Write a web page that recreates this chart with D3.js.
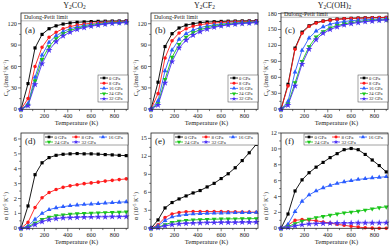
<!DOCTYPE html>
<html>
<head>
<meta charset="utf-8">
<script src="https://cdn.jsdelivr.net/npm/d3@7"></script>
<style>
body { margin: 0; background: #fff; }
svg text { font-family: "Liberation Serif", "DejaVu Serif", serif; }
</style>
</head>
<body>
<script>
// data
var temps = [0, 60, 120, 180, 240, 300, 360, 420, 480, 540, 600, 660, 720, 780, 840, 900];
var pressures = ["0 GPa", "8 GPa", "16 GPa", "24 GPa", "32 GPa"];
var xTicks = [0, 200, 400, 600, 800];

var cvY2CO2 = [
	[0, 36, 86, 105, 113, 117, 119.5, 121, 122, 122.5, 123, 123.3, 123.5, 123.7, 123.8, 124],
	[0, 15, 60, 87, 101, 108, 113, 116, 118, 119.5, 120.5, 121.5, 122, 122.5, 123, 123.3],
	[0, 8, 45, 76, 94, 103, 109, 113, 115.5, 117.5, 119, 120, 121, 121.5, 122, 122.5],
	[0, 6, 40, 70, 88, 99, 106, 110.5, 113.5, 116, 117.5, 119, 120, 121, 121.5, 122],
	[0, 5, 35, 64, 83, 95, 103, 108, 112, 114.5, 116.5, 118, 119.5, 120.5, 121, 121.5]
];
var cvY2CF2 = [
	[0, 38, 88, 106, 114, 118, 120, 121.5, 122.3, 122.8, 123.2, 123.5, 123.7, 123.9, 124, 124.1],
	[0, 22, 72, 96, 107, 113, 116.5, 118.5, 120, 121, 121.7, 122.2, 122.6, 123, 123.3, 123.5],
	[0, 12, 54, 83, 98, 106, 111, 114.5, 116.8, 118.3, 119.5, 120.4, 121.1, 121.7, 122.1, 122.5],
	[0, 8, 42, 73, 91, 101, 107.5, 111.5, 114.5, 116.5, 118, 119.2, 120.1, 120.8, 121.4, 121.9],
	[0, 6, 37, 67, 86, 97, 104, 109, 112.5, 115, 116.8, 118.2, 119.3, 120.2, 120.9, 121.4]
];
var cvY2COH2 = [
	[0, 47, 115, 145, 157, 163, 166, 168, 169.5, 170.3, 171, 171.5, 171.9, 172.2, 172.5, 172.7],
	[0, 44, 113, 143, 156, 162, 165.5, 167.5, 169, 170, 170.7, 171.2, 171.6, 172, 172.3, 172.5],
	[0, 15, 70, 111, 134, 147, 155, 160, 163, 165, 166.5, 167.5, 168.3, 169, 169.5, 170],
	[0, 10, 50, 90, 118, 136, 146, 153, 157.5, 160.5, 162.8, 164.5, 165.8, 166.9, 167.8, 168.5],
	[0, 8, 44, 85, 113, 131, 143, 150, 155, 158.5, 161, 163, 164.6, 165.9, 167, 167.8]
];
var alphaY2CO2 = [
	[0, 1.5, 3.6, 4.4, 4.75, 4.9, 4.97, 5.0, 5.02, 5.0, 5.0, 4.98, 4.95, 4.93, 4.9, 4.88],
	[0, 0.4, 1.4, 2.05, 2.4, 2.6, 2.75, 2.85, 2.93, 3.0, 3.05, 3.1, 3.17, 3.22, 3.27, 3.32],
	[0, 0.15, 0.6, 1.0, 1.25, 1.38, 1.45, 1.52, 1.56, 1.6, 1.63, 1.66, 1.69, 1.72, 1.75, 1.78],
	[0, 0.1, 0.35, 0.6, 0.75, 0.85, 0.9, 0.95, 0.98, 1.0, 1.02, 1.04, 1.06, 1.07, 1.08, 1.1],
	[0, 0.05, 0.25, 0.45, 0.58, 0.65, 0.7, 0.72, 0.74, 0.75, 0.76, 0.77, 0.77, 0.78, 0.78, 0.79]
];
var alphaY2CF2 = [
	[0, 1.4, 3.4, 4.3, 4.9, 5.4, 5.9, 6.3, 6.9, 7.5, 8.3, 9.1, 10.1, 11.3, 12.6, 14.0],
	[0, 0.6, 1.8, 2.4, 2.65, 2.75, 2.8, 2.8, 2.8, 2.8, 2.78, 2.76, 2.74, 2.72, 2.7, 2.68],
	[0, 0.4, 1.3, 1.9, 2.15, 2.3, 2.4, 2.45, 2.5, 2.52, 2.55, 2.57, 2.6, 2.62, 2.63, 2.65],
	[0, 0.2, 0.6, 1.0, 1.2, 1.3, 1.4, 1.45, 1.5, 1.52, 1.55, 1.57, 1.58, 1.6, 1.6, 1.62],
	[0, 0.1, 0.4, 0.6, 0.75, 0.82, 0.88, 0.92, 0.95, 0.97, 0.99, 1.0, 1.0, 1.02, 1.02, 1.03]
];
var alphaY2COH2 = [
	[0, 1.8, 4.7, 6.1, 7.0, 7.7, 8.3, 8.9, 9.4, 9.9, 10.05, 9.9, 9.3, 8.6, 7.9, 7.1],
	[0, 0.4, 1.0, 1.1, 1.05, 0.95, 0.8, 0.65, 0.5, 0.38, 0.25, 0.15, 0.06, 0.02, 0, 0],
	[0, 0.5, 2.1, 3.4, 4.2, 4.7, 5.1, 5.4, 5.65, 5.85, 6.0, 6.15, 6.25, 6.35, 6.42, 6.5],
	[0, 0.2, 0.6, 0.9, 1.15, 1.35, 1.5, 1.65, 1.8, 1.95, 2.05, 2.15, 2.3, 2.45, 2.6, 2.7],
	[0, 0.1, 0.3, 0.45, 0.55, 0.6, 0.62, 0.64, 0.65, 0.66, 0.67, 0.68, 0.68, 0.68, 0.69, 0.7]
];

var colors = ["#000000", "#ff1a1a", "#2a5cff", "#19c619", "#4a2ff5"];
var symbols = [d3.symbolSquare, d3.symbolCircle, d3.symbolTriangle, d3.symbolTriangle, d3.symbolStar];
var symRot = [0, 0, 0, 180, 0];

var W = 390, H = 250;
var svg = d3.select("body").append("svg").attr("width", W).attr("height", H);

var cols = [21, 151, 281], pw = 107;

function panel(o){
	var g = svg.append("g");
	var x = d3.scaleLinear().domain([0, 915]).range([o.x0, o.x0 + pw]);
	var y = d3.scaleLinear().domain([0, o.ymax]).range([o.y1, o.y0]);

	// ticks, major + minor
	var minor = d3.range(0, 901, 100);
	g.selectAll(".mx").data(minor).enter().append("line")
		.attr("x1", d => x(d)).attr("x2", d => x(d))
		.attr("y1", o.y1).attr("y2", d => o.y1 + (d % 200 == 0 ? 3 : 1.8))
		.attr("stroke", "#222").attr("stroke-width", 0.6);
	g.selectAll(".xl").data(xTicks).enter().append("text")
		.attr("x", d => x(d)).attr("y", o.y1 + 8.5)
		.attr("text-anchor", "middle").attr("font-size", 6.3).attr("fill", "#222")
		.text(d => d);
	var ym = [];
	o.yTicks.forEach((t, i) => { ym.push(t); if (i < o.yTicks.length - 1) ym.push((t + o.yTicks[i+1]) / 2); });
	g.selectAll(".my").data(ym).enter().append("line")
		.attr("x1", o.x0).attr("x2", d => o.x0 - (o.yTicks.indexOf(d) >= 0 ? 3 : 1.8))
		.attr("y1", d => y(d)).attr("y2", d => y(d))
		.attr("stroke", "#222").attr("stroke-width", 0.6);
	g.selectAll(".yl").data(o.yTicks).enter().append("text")
		.attr("x", o.x0 - 4).attr("y", d => y(d) + 2)
		.attr("text-anchor", "end").attr("font-size", 6.3).attr("fill", "#222")
		.text(d => d);

	// x title
	g.append("text").attr("x", o.x0 + pw / 2 + 2).attr("y", o.y1 + 15.5)
		.attr("text-anchor", "middle").attr("font-size", 6.5).attr("fill", "#222")
		.text("Temperature (K)");

	// y title
	var yt = g.append("text")
		.attr("transform", "translate(" + (o.x0 - 13) + "," + o.ylabY + ") rotate(-90)")
		.attr("text-anchor", "middle").attr("font-size", 6).attr("fill", "#222");
	o.ylab(yt);

	// Dulong-Petit
	if (o.dp) {
		g.append("line").attr("x1", o.x0).attr("x2", o.x0 + pw)
			.attr("y1", y(o.dp)).attr("y2", y(o.dp))
			.attr("stroke", "#aaa").attr("stroke-width", 0.8);
		g.append("text").attr("x", o.x0 + 3).attr("y", y(o.dp) - 1.4)
			.attr("font-size", 6).attr("fill", "#222").text("Dulong-Petit limit");
	}

	var line = d3.line().x((d, i) => x(temps[i])).y(d => y(d));
	o.data.forEach((s, k) => {
		g.append("path").attr("d", line(s)).attr("fill", "none")
			.attr("stroke", colors[k]).attr("stroke-width", 0.9);
	});
	o.data.forEach((s, k) => {
		g.selectAll(".p" + k).data(s).enter().append("path")
			.attr("d", d3.symbol().type(symbols[k]).size(k == 4 ? 14 : 10))
			.attr("transform", (d, i) => "translate(" + x(temps[i]) + "," + y(d) + ") rotate(" + symRot[k] + ")")
			.attr("fill", colors[k]);
	});

	// frame
	g.append("rect").attr("x", o.x0).attr("y", o.y0).attr("width", pw).attr("height", o.y1 - o.y0)
		.attr("fill", "none").attr("stroke", "#222").attr("stroke-width", 0.8);

	// panel letter
	g.append("text").attr("x", o.x0 + 4).attr("y", o.letterY)
		.attr("font-size", 9).attr("fill", "#222").text(o.letter);

	// legend
	var lg = g.append("g");
	if (o.legend == "col") {
		var lx = o.x0 + 77, ly = 75;
		lg.append("rect").attr("x", lx).attr("y", ly).attr("width", pw - 77).attr("height", 27)
			.attr("fill", "#fff").attr("stroke", "#444").attr("stroke-width", 0.5);
		pressures.forEach((p, k) => {
			var yy = ly + 3 + k * 5.2;
			lg.append("line").attr("x1", lx + 2).attr("x2", lx + 10).attr("y1", yy).attr("y2", yy)
				.attr("stroke", colors[k]).attr("stroke-width", 0.8);
			lg.append("path").attr("d", d3.symbol().type(symbols[k]).size(7))
				.attr("transform", "translate(" + (lx + 6) + "," + yy + ") rotate(" + symRot[k] + ")")
				.attr("fill", colors[k]);
			lg.append("text").attr("x", lx + 11).attr("y", yy + 1.6).attr("font-size", 4.6)
				.attr("fill", "#222").text(p);
		});
	} else {
		var lx = o.x0 + 23, ly = o.y0 + 1;
		lg.append("rect").attr("x", lx).attr("y", ly).attr("width", pw - 23).attr("height", 11)
			.attr("fill", "#fff").attr("stroke", "#444").attr("stroke-width", 0.5);
		pressures.forEach((p, k) => {
			var cx = lx + 5 + (k % 3) * 27, yy = ly + 3 + Math.floor(k / 3) * 5;
			lg.append("line").attr("x1", cx - 4).attr("x2", cx + 4).attr("y1", yy).attr("y2", yy)
				.attr("stroke", colors[k]).attr("stroke-width", 0.8);
			lg.append("path").attr("d", d3.symbol().type(symbols[k]).size(7))
				.attr("transform", "translate(" + cx + "," + yy + ") rotate(" + symRot[k] + ")")
				.attr("fill", colors[k]);
			lg.append("text").attr("x", cx + 5.5).attr("y", yy + 1.6).attr("font-size", 4.8)
				.attr("fill", "#222").text(p);
		});
	}

	// title
	if (o.title) {
		var tt = svg.append("text").attr("x", o.x0 + pw / 2).attr("y", 7.5)
			.attr("text-anchor", "middle").attr("font-size", 8).attr("fill", "#222");
		o.title.forEach(part => {
			var ts = tt.append("tspan").text(part[0]);
			if (part[1]) ts.attr("font-size", 5.5).attr("dy", 1.5);
			else ts.attr("dy", part[2] || 0);
		});
	}
}

function cvLabel(t){
	t.append("tspan").text("C");
	t.append("tspan").text("V").attr("font-size", 4.5).attr("dy", 1.5);
	t.append("tspan").text(" (Jmol").attr("dy", -1.5);
	t.append("tspan").text("-1").attr("font-size", 4.5).attr("dy", -2.5);
	t.append("tspan").text("K").attr("dy", 2.5);
	t.append("tspan").text("-1").attr("font-size", 4.5).attr("dy", -2.5);
	t.append("tspan").text(")").attr("dy", 2.5);
}
function alphaLabel(t){
	t.append("tspan").text("α (10");
	t.append("tspan").text("-5").attr("font-size", 4.5).attr("dy", -2.5);
	t.append("tspan").text(" K").attr("dy", 2.5);
	t.append("tspan").text("-1").attr("font-size", 4.5).attr("dy", -2.5);
	t.append("tspan").text(")").attr("dy", 2.5);
}

var topRow = { y0: 13, y1: 109.3, ylabY: 78, letterY: 33, legend: "col", ylab: cvLabel };
var botRow = { y0: 133, y1: 228.3, ylabY: 206, letterY: 144, legend: "row", ylab: alphaLabel };

panel(Object.assign({}, topRow, { x0: cols[0], ymax: 135, yTicks: [0, 30, 60, 90, 120], data: cvY2CO2, dp: 124, letter: "(a)",
	title: [["Y"], ["2", true], ["CO", false, -1.5], ["2", true]] }));
panel(Object.assign({}, topRow, { x0: cols[1], ymax: 135, yTicks: [0, 30, 60, 90, 120], data: cvY2CF2, dp: 124, letter: "(b)",
	title: [["Y"], ["2", true], ["CF", false, -1.5], ["2", true]] }));
panel(Object.assign({}, topRow, { x0: cols[2], ymax: 181, yTicks: [0, 30, 60, 90, 120, 150, 180], data: cvY2COH2, dp: 173, letter: "(c)",
	title: [["Y"], ["2", true], ["C(OH)", false, -1.5], ["2", true]] }));
panel(Object.assign({}, botRow, { x0: cols[0], ymax: 6.4, yTicks: [0, 1, 2, 3, 4, 5, 6], data: alphaY2CO2, letter: "(d)" }));
panel(Object.assign({}, botRow, { x0: cols[1], ymax: 15.9, yTicks: [0, 3, 6, 9, 12, 15], data: alphaY2CF2, letter: "(e)" }));
panel(Object.assign({}, botRow, { x0: cols[2], ymax: 12, yTicks: [0, 2, 4, 6, 8, 10, 12], data: alphaY2COH2, letter: "(f)" }));
</script>
</body>
</html>
